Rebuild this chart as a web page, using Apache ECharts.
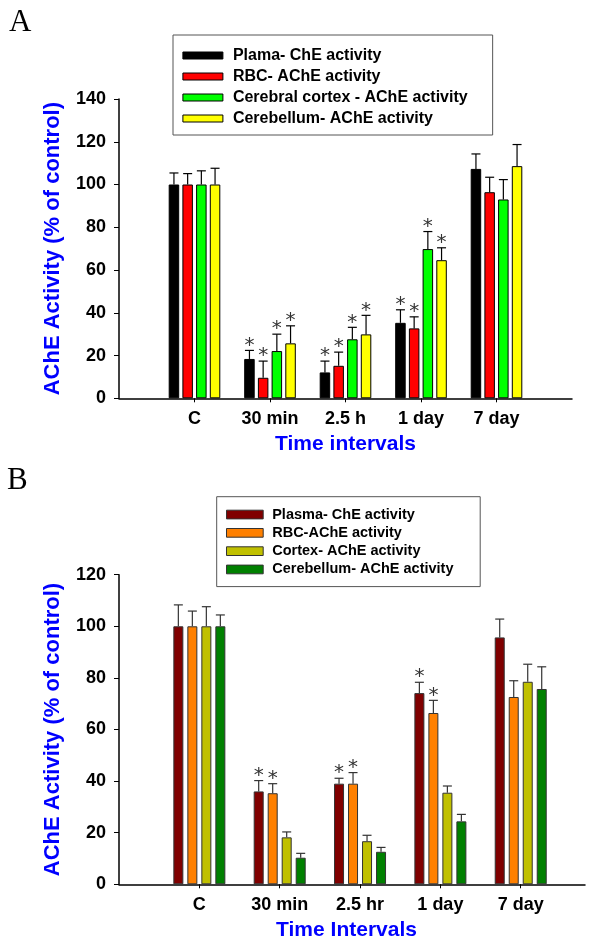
<!DOCTYPE html>
<html>
<head>
<meta charset="utf-8">
<script src="https://cdn.jsdelivr.net/npm/echarts@6/dist/echarts.min.js"></script>
<style>html,body{margin:0;padding:0;background:#fff;}#c{width:600px;height:943px;}</style>
</head>
<body>
<div id="c"></div>
<script>
// ---- Panel A data ----
const catsA = ['C', '30 min', '2.5 h', '1 day', '7 day'];
const namesA = ['Plama- ChE activity', 'RBC- AChE activity', 'Cerebral cortex - AChE activity', 'Cerebellum- AChE activity'];
const plasmaA = [100, 18.4, 12.1, 35.3, 107.3];
const plasmaA_sd = [5.4, 4.0, 5.3, 6.1, 7.0];
const rbcA = [100, 9.6, 15.2, 32.7, 96.4];
const rbcA_sd = [5.1, 7.8, 6.4, 5.4, 7.0];
const cortexA = [100, 22.1, 27.6, 69.8, 93.0];
const cortexA_sd = [6.4, 7.9, 5.6, 8.2, 9.3];
const cerebA = [100, 25.7, 29.9, 64.6, 108.6];
const cerebA_sd = [7.6, 8.2, 8.9, 5.8, 10.1];
const starsA = [[0,1,1,1,0],[0,1,1,1,0],[0,1,1,1,0],[0,1,1,1,0]];
const yTicksA = [0, 20, 40, 60, 80, 100, 120, 140];

// ---- Panel B data ----
const catsB = ['C', '30 min', '2.5 hr', '1 day', '7 day'];
const namesB = ['Plasma- ChE activity', 'RBC-AChE activity', 'Cortex- AChE activity', 'Cerebellum- AChE activity\u200B'];
const plasmaB = [100, 36.0, 39.0, 74.1, 95.7];
const plasmaB_sd = [8.3, 4.2, 2.1, 4.2, 7.1];
const rbcB = [100, 35.3, 39.0, 66.4, 72.6];
const rbcB_sd = [5.9, 3.7, 4.3, 4.9, 6.3];
const cortexB = [100, 18.2, 16.7, 35.5, 78.5];
const cortexB_sd = [7.6, 2.1, 2.3, 2.6, 6.8];
const cerebB = [100, 10.3, 12.6, 24.4, 75.7];
const cerebB_sd = [4.4, 1.7, 1.7, 2.7, 8.6];
const starsB = [[0,1,1,1,0],[0,1,1,1,0],[0,0,0,0,0],[0,0,0,0,0]];
const yTicksB = [0, 20, 40, 60, 80, 100, 120];

const colorsA = ['#000000', '#ff0000', '#00ff00', '#ffff00'];
const colorsB = ['#800000', '#ff8000', '#c0c000', '#008000'];

const FONT = 'Liberation Sans, Arial, sans-serif';
const positions = [1, 2, 3, 4, 5];

const chart = echarts.init(document.getElementById('c'), null, {renderer: 'canvas'});

const seriesA = [[plasmaA, plasmaA_sd], [rbcA, rbcA_sd], [cortexA, cortexA_sd], [cerebA, cerebA_sd]];
const seriesB = [[plasmaB, plasmaB_sd], [rbcB, rbcB_sd], [cortexB, cortexB_sd], [cerebB, cerebB_sd]];

function makeSeries(panel, vals, names, colors, stars, barW, gapPct, errColor, borderColor) {
  const out = [];
  const step = barW * (1 + gapPct / 100);
  vals.forEach((pair, k) => {
    out.push({
      type: 'bar', name: names[k], xAxisIndex: panel, yAxisIndex: panel,
      barWidth: barW, barGap: gapPct + '%',
      itemStyle: {color: colors[k], borderColor: borderColor, borderWidth: 1},
      data: pair[0].map((v, i) => [positions[i], v]),
      z: 2
    });
  });
  vals.forEach((pair, k) => {
    out.push({
      type: 'custom', xAxisIndex: panel, yAxisIndex: panel, z: 3, silent: true,
      data: pair[0].map((v, i) => [positions[i], v, v + pair[1][i], stars[k][i]]),
      renderItem: function (params, api) {
        const base = api.coord([api.value(0), api.value(1)]);
        const top = api.coord([api.value(0), api.value(2)]);
        const x = base[0] + (k - 1.5) * step;
        const children = [
          {type: 'line', shape: {x1: x, y1: base[1], x2: x, y2: top[1]}, style: {stroke: errColor, lineWidth: 1.2}},
          {type: 'line', shape: {x1: x - 4.5, y1: top[1], x2: x + 4.5, y2: top[1]}, style: {stroke: errColor, lineWidth: 1.2}}
        ];
        if (api.value(3) === 1) {
          children.push({type: 'text', x: x, y: top[1] + 5, style: {text: '*', fill: '#333', font: '20px DejaVu Sans', align: 'center', verticalAlign: 'bottom'}});
        }
        return {type: 'group', children: children};
      }
    });
  });
  return out;
}

function xAxisCfg(panel, cats, max, name, namePad) {
  return {
    type: 'value', gridIndex: panel, min: 0, max: max,
    name: name, nameLocation: 'middle', nameGap: 35,
    nameTextStyle: {color: '#0000ff', fontWeight: 'bold', fontSize: 21, fontFamily: FONT, padding: namePad},
    axisLine: {show: true, lineStyle: {color: '#000', width: 1.5}},
    axisTick: {show: true, customValues: positions, length: 4, lineStyle: {color: '#000', width: 1}},
    axisLabel: {show: true, customValues: positions, formatter: v => cats[Math.round(v) - 1] || '', margin: 12,
      color: '#000', fontWeight: 'bold', fontSize: 18, fontFamily: FONT},
    splitLine: {show: false}
  };
}

function yAxisCfg(panel, ticks) {
  return {
    type: 'value', gridIndex: panel, min: 0, max: ticks[ticks.length - 1], interval: 20,
    name: 'AChE Activity (% of control)', nameLocation: 'middle', nameRotate: 90, nameGap: 55,
    nameTextStyle: {color: '#0000ff', fontWeight: 'bold', fontSize: 22, fontFamily: FONT},
    axisLine: {show: true, lineStyle: {color: '#000', width: 1.5}},
    axisTick: {show: true, length: 5, lineStyle: {color: '#000', width: 1}},
    axisLabel: {margin: 13, color: '#000', fontWeight: 'bold', fontSize: 18, fontFamily: FONT},
    splitLine: {show: false}
  };
}

const option = {
  animation: false,
  backgroundColor: '#fff',
  title: [
    {text: 'A', left: 4, top: 2, textStyle: {fontFamily: 'Liberation Serif', fontWeight: 'normal', fontSize: 31, color: '#000'}},
    {text: 'B', left: 2, top: 460, textStyle: {fontFamily: 'Liberation Serif', fontWeight: 'normal', fontSize: 31, color: '#000'}}
  ],
  legend: [
    {data: namesA.map((n, k) => ({name: n, itemStyle: {color: colorsA[k], borderColor: '#000', borderWidth: 1}})),
     orient: 'vertical', left: 173, top: 35, itemWidth: 40, itemHeight: 7, itemGap: 0,
     padding: [10, 25, 6, 9.4], borderColor: '#555', borderWidth: 1, icon: 'rect',
     textStyle: {fontFamily: FONT, fontWeight: 'bold', fontSize: 16, color: '#000', lineHeight: 21, padding: [0, 0, 0, 5]}},
    {data: namesB.map((n, k) => ({name: n, itemStyle: {color: colorsB[k], borderColor: '#333', borderWidth: 1}})),
     orient: 'vertical', left: 216.7, top: 496.7, itemWidth: 36.7, itemHeight: 8.7, itemGap: 0,
     padding: [8.7, 26.7, 8, 9.3], borderColor: '#555', borderWidth: 1, icon: 'rect',
     textStyle: {fontFamily: FONT, fontWeight: 'bold', fontSize: 14.5, color: '#000', lineHeight: 18.3, padding: [0, 0, 0, 4]}}
  ],
  grid: [
    {left: 119, top: 99, width: 453, height: 299.3},
    {left: 119, top: 574.7, width: 466, height: 309.6}
  ],
  xAxis: [xAxisCfg(0, catsA, 6, 'Time intervals', [0, 0, 0, 0]), xAxisCfg(1, catsB, 5.8, 'Time Intervals', [0, 11, 0, 0])],
  yAxis: [yAxisCfg(0, yTicksA), yAxisCfg(1, yTicksB)],
  series: [].concat(
    makeSeries(0, seriesA, namesA, colorsA, starsA, 10.5, 30.5, '#000', '#000'),
    makeSeries(1, seriesB, namesB, colorsB, starsB, 10, 40, '#333', '#333')
  )
};
chart.setOption(option);
</script>
</body>
</html>
